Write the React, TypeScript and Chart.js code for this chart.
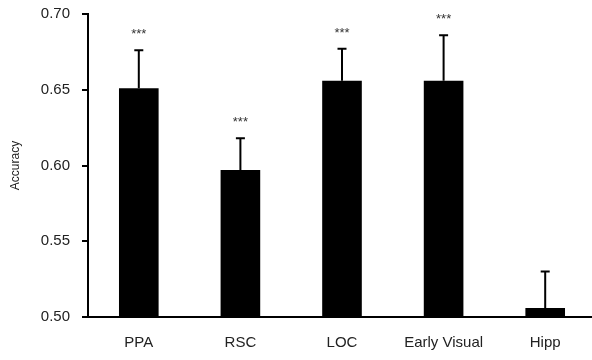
import React, { useEffect, useRef } from "react";
import { Chart, registerables } from "chart.js";

Chart.register(...registerables);

const regions = ["PPA", "RSC", "LOC", "Early Visual", "Hipp"];
const accuracy = [0.651, 0.597, 0.656, 0.656, 0.506];
const errorTop = [0.676, 0.618, 0.677, 0.686, 0.53];
const significance = ["***", "***", "***", "***", ""];
const yTicks = [0.5, 0.55, 0.6, 0.65, 0.7];

const errorBarPlugin = {
  id: "errorBars",
  afterDatasetsDraw(chart: any) {
    const ctx = chart.ctx;
    const meta = chart.getDatasetMeta(0);
    const y = chart.scales.y;
    ctx.save();
    meta.data.forEach((bar: any, i: number) => {
      const x = bar.x;
      const yBar = y.getPixelForValue(accuracy[i]);
      const yErr = y.getPixelForValue(errorTop[i]);
      ctx.strokeStyle = "#000";
      ctx.lineWidth = 2;
      ctx.beginPath();
      ctx.moveTo(x, yBar);
      ctx.lineTo(x, yErr);
      ctx.moveTo(x - 4.5, yErr);
      ctx.lineTo(x + 4.5, yErr);
      ctx.stroke();
      if (significance[i]) {
        ctx.fillStyle = "#333";
        ctx.font = "13px 'Liberation Sans', Arial, sans-serif";
        ctx.textAlign = "center";
        ctx.textBaseline = "alphabetic";
        ctx.fillText(significance[i], x, yErr - 12);
      }
    });
    ctx.restore();
  },
};

export default function App() {
  const ref = useRef<HTMLCanvasElement | null>(null);
  useEffect(() => {
    document.body.style.margin = "0";
    document.body.style.overflow = "hidden";
    const canvas = ref.current!;
    const chart = new Chart(canvas, {
      type: "bar",
      data: {
        labels: regions,
        datasets: [
          {
            data: accuracy,
            backgroundColor: "#000",
            borderWidth: 0,
            barPercentage: 0.39,
            categoryPercentage: 1,
          },
        ],
      },
      options: {
        responsive: false,
        animation: false,
        layout: { padding: { top: 14, right: 4, left: 0, bottom: 0 } },
        plugins: {
          legend: { display: false },
          tooltip: { enabled: false },
        },
        scales: {
          x: {
            offset: true,
            grid: { display: false, drawTicks: false },
            border: { display: true, color: "#000", width: 2 },
            ticks: {
              color: "#222",
              padding: 17,
              font: { family: "'Liberation Sans', Arial, sans-serif", size: 15 },
              maxRotation: 0,
              autoSkip: false,
            },
            afterFit: (s: any) => {
              s.height = 43;
              s.paddingLeft = 0;
              s.paddingRight = 0;
            },
          },
          y: {
            min: 0.5,
            max: 0.7,
            afterBuildTicks: (s: any) => {
              s.ticks = yTicks.map((v) => ({ value: v }));
            },
            grid: {
              drawOnChartArea: false,
              drawTicks: true,
              tickLength: 6,
              color: "#000",
              lineWidth: 2,
            },
            border: { display: true, color: "#000", width: 2 },
            ticks: {
              color: "#222",
              padding: 12,
              font: { family: "'Liberation Sans', Arial, sans-serif", size: 15 },
              callback: (v: any) => Number(v).toFixed(2),
            },
            title: {
              display: true,
              text: "Accuracy",
              color: "#222",
              padding: { top: 8, bottom: 0 },
              font: { family: "'Liberation Sans', Arial, sans-serif", size: 12 },
            },
            afterFit: (s: any) => {
              s.width = 88;
              s.paddingTop = 0;
              s.paddingBottom = 0;
            },
          },
        },
      },
      plugins: [errorBarPlugin],
    });
    return () => chart.destroy();
  }, []);
  return (
    <div style={{ width: 600, height: 360 }}>
      <canvas ref={ref} width={600} height={360} style={{ display: "block" }} />
    </div>
  );
}
